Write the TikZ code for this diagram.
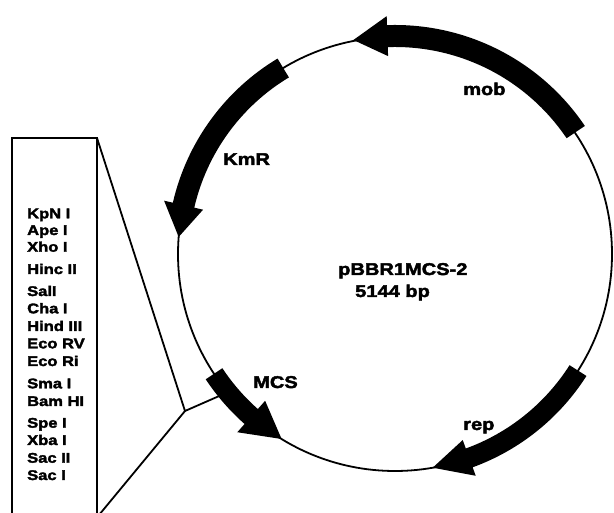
\documentclass[tikz,border=0pt]{standalone}
\usepackage{fontspec}
\setmainfont{Liberation Sans}
\newfontfamily\heavyfont{Liberation Sans Bold}[FakeStretch=1.18, FakeBold=2.5]
\begin{document}
\begin{tikzpicture}[x=1pt,y=1pt,
  lbl/.style={font=\fontsize{17}{17}\heavyfont, anchor=base west, inner sep=0pt},
  site/.style={font=\fontsize{14}{14}\heavyfont, anchor=base west, inner sep=0pt},
  plasmid/.style={line width=1.8pt},
  boxline/.style={line width=2.8pt},
  leader/.style={line width=1.8pt}]
\useasboundingbox (0,0) rectangle (614,513);
\newcommand{\gene}[6]{% a1, abase, atip, radius, halfwidth, headhalf
  \fill[black] (#1:{#4-#5}) arc[start angle=#1, end angle=#2, radius={#4-#5}]
    -- (#2:{#4-#6}) -- (#3:#4) -- (#2:{#4+#6})
    -- (#2:{#4+#5}) arc[start angle=#2, end angle=#1, radius={#4+#5}] -- cycle;}
\begin{scope}[shift={(395,259)}]
  \coordinate (C) at (0,0);
  \draw[plasmid] (C) circle[radius=217];
  \gene{34}{92}{101}{218}{11}{20}
  \gene{121}{167}{175.5}{217}{11}{20}
  \gene{213.5}{228.5}{238.5}{217}{10}{21}
  \gene{327.5}{290}{280}{217}{10}{19}
  \coordinate (mcsPt) at (219:225);
\end{scope}
% box
\draw[boxline] (12,-5) -- (12,375) -- (97,375) -- (97,-5);
\coordinate (boxTop) at (97,375);
\coordinate (boxBot) at (99,-2);
\coordinate (J) at (185,102);
\draw[leader] (boxTop) -- (J) -- (mcsPt);
\draw[leader] (J) -- (boxBot);
% labels
\node[lbl] (mob) at (463,418) {mob};
\node[lbl] (kmr) at (223,348) {KmR};
\node[lbl] (name) at (338,238) {pBBR1MCS-2};
\node[lbl] (size) at (355,216) {5144 bp};
\node[lbl] (mcs) at (253,125) {MCS};
\node[lbl] (rep) at (463,83) {rep};
% restriction sites
\node[site] (s1) at (27,294.7) {KpN I};
\node[site] (s2) at (27,278) {Ape I};
\node[site] (s3) at (27,261.3) {Xho I};
\node[site] (s4) at (27,239) {Hinc II};
\node[site] (s5) at (27,217) {SalI};
\node[site] (s6) at (27,199.7) {Cha I};
\node[site] (s7) at (27,182) {Hind III};
\node[site] (s8) at (27,164.7) {Eco RV};
\node[site] (s9) at (27,147) {Eco Ri};
\node[site] (s10) at (27,124.7) {Sma I};
\node[site] (s11) at (27,107) {Bam HI};
\node[site] (s12) at (27,85.3) {Spe I};
\node[site] (s13) at (27,68) {Xba I};
\node[site] (s14) at (27,50.3) {Sac II};
\node[site] (s15) at (27,33) {Sac I};
\end{tikzpicture}
\end{document}
